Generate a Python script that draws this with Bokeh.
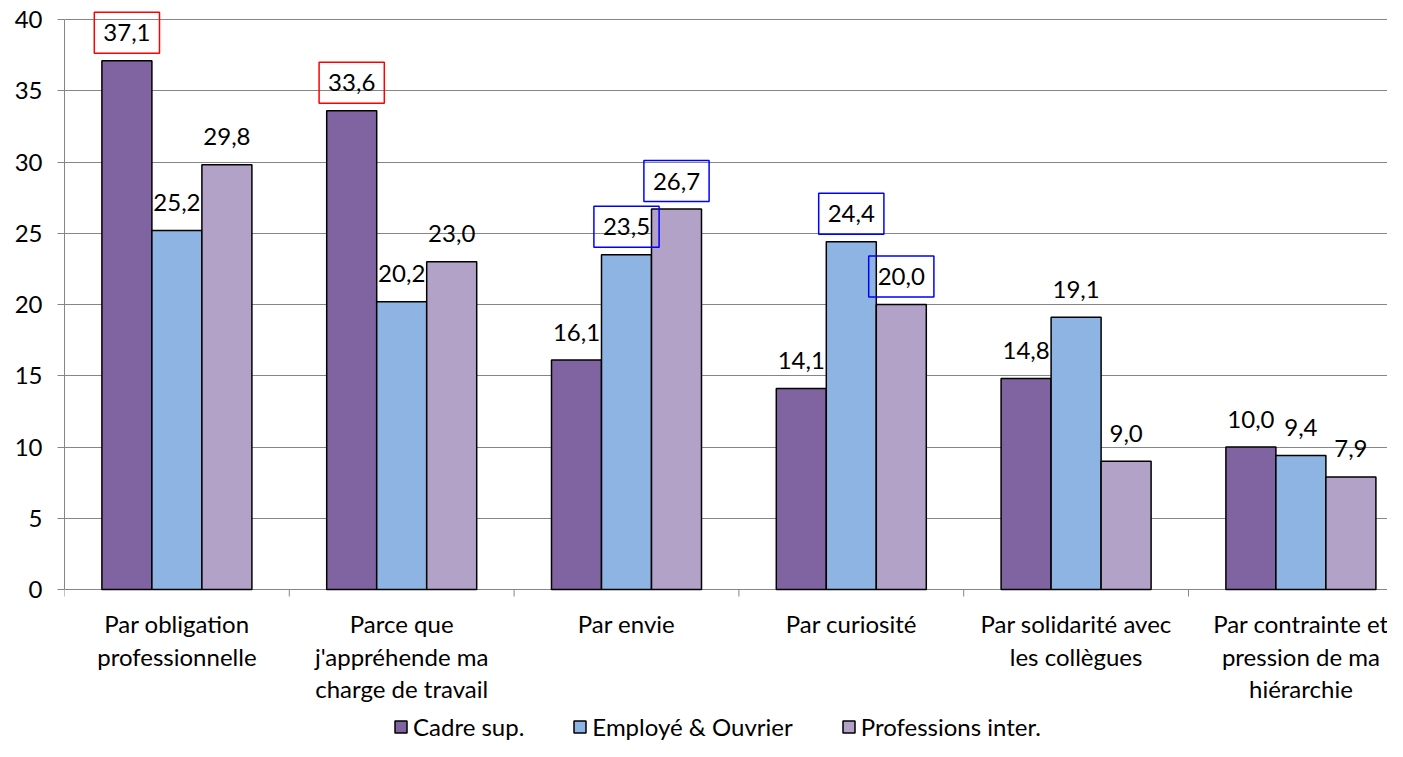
from bokeh.plotting import figure
from bokeh.models import Range1d, FixedTicker, Label, LabelSet, Legend, LegendItem, ColumnDataSource
from bokeh.core.properties import value
from bokeh.embed import file_html
from bokeh.resources import INLINE

categories = [
    "Par obligation\nprofessionnelle",
    "Parce que\nj'appréhende ma\ncharge de travail",
    "Par envie",
    "Par curiosité",
    "Par solidarité avec\nles collègues",
    "Par contrainte et\npression de ma\nhiérarchie",
]
series_names = ["Cadre sup.", "Employé & Ouvrier", "Professions inter."]
cadre = [37.1, 33.6, 16.1, 14.1, 14.8, 10.0]
employe = [25.2, 20.2, 23.5, 24.4, 19.1, 9.4]
prof = [29.8, 23.0, 26.7, 20.0, 9.0, 7.9]
highlight_cadre = ["red", "red", None, None, None, None]
highlight_employe = [None, None, "blue", "blue", None, None]
highlight_prof = [None, None, "blue", "blue", None, None]
y_ticks = [0, 5, 10, 15, 20, 25, 30, 35, 40]

colors = ["#8064A2", "#8EB4E3", "#B3A2C7"]
all_vals = [cadre, employe, prof]
all_hl = [highlight_cadre, highlight_employe, highlight_prof]

FONT = "Lato"
FS = "24px"
GRID = "#868686"

n = len(categories)
px_per_cat = 224.8
bar_w = 50 / px_per_cat
offsets = [-bar_w, 0.0, bar_w]
centers = [i + 0.5 for i in range(n)]
bounds = [float(i) for i in range(n + 1)]

W, H = 1387, 741
LEFT, TOP, Y0 = 64, 6, 589
px_per_unit = (589 - 19) / 40.0
y_end = (Y0 - TOP) / px_per_unit
y_start = -(H - Y0) / px_per_unit

p = figure(width=W, height=H, output_backend="svg", toolbar_location=None,
           x_range=Range1d(0, (W - LEFT) / px_per_cat), y_range=Range1d(y_start, y_end),
           x_axis_location=None,
           min_border_left=LEFT, min_border_right=0, min_border_top=TOP,
           min_border_bottom=0)
p.outline_line_color = None
p.background_fill_color = "white"

# grid
p.xgrid.visible = False
p.ygrid.grid_line_color = GRID
p.ygrid.grid_line_width = 1
p.ygrid.ticker = FixedTicker(ticks=y_ticks)

# boundary ticks under the category axis
tick_u = 7 / px_per_unit
p.segment(x0=bounds, y0=[0] * len(bounds), x1=bounds, y1=[-tick_u] * len(bounds),
          line_color=GRID, line_width=1)

renderers = []
for k, vals in enumerate(all_vals):
    xs = [c + offsets[k] for c in centers]
    r = p.vbar(x=xs, top=vals, width=bar_w, fill_color=colors[k],
               line_color="black", line_width=1.5)
    renderers.append(r)

def fmt(v):
    return f"{v:.1f}".replace(".", ",")

for k, vals in enumerate(all_vals):
    for i, v in enumerate(vals):
        lab = Label(x=centers[i] + offsets[k], y=v, y_offset=28, text=fmt(v),
                    text_align="center", text_baseline="middle",
                    text_font=FONT, text_font_size=FS, text_color="black")
        hl = all_hl[k][i]
        if hl:
            lab.border_line_color = hl
            lab.border_line_width = 1.5
            lab.padding = dict(left=9, right=9, top=12, bottom=12)
        p.add_layout(lab)

# y axis
p.yaxis.ticker = FixedTicker(ticks=y_ticks)
p.yaxis.bounds = (0, 40)
p.yaxis.axis_line_color = GRID
p.yaxis.major_tick_line_color = GRID
p.yaxis.major_tick_out = 7
p.yaxis.major_tick_in = 0
p.yaxis.minor_tick_line_color = None
p.yaxis.major_label_text_font = FONT
p.yaxis.major_label_text_font_size = FS
p.yaxis.major_label_text_color = "black"
p.yaxis.major_label_standoff = 15

# category labels, one label set per text line
lines = [c.split("\n") for c in categories]
n_lines = max(len(l) for l in lines)
for li in range(n_lines):
    src = ColumnDataSource(dict(
        x=centers, y=[0] * n,
        text=[l[li] if li < len(l) else "" for l in lines]))
    p.add_layout(LabelSet(x="x", y="y", text="text", source=src,
                          y_offset=-(34 + 32.5 * li),
                          text_align="center", text_baseline="middle",
                          text_font=value(FONT), text_font_size=value(FS),
                          text_color="black"))

legend = Legend(items=[LegendItem(label=s, renderers=[r]) for s, r in zip(series_names, renderers)],
                orientation="horizontal", location=(329, 0),
                label_text_font=FONT, label_text_font_size=FS, label_text_color="black",
                glyph_width=15, glyph_height=15, label_standoff=5, spacing=48,
                padding=0, margin=0, border_line_color=None, background_fill_alpha=0)
p.add_layout(legend)

open("out.html", "w").write(file_html(p, INLINE))
